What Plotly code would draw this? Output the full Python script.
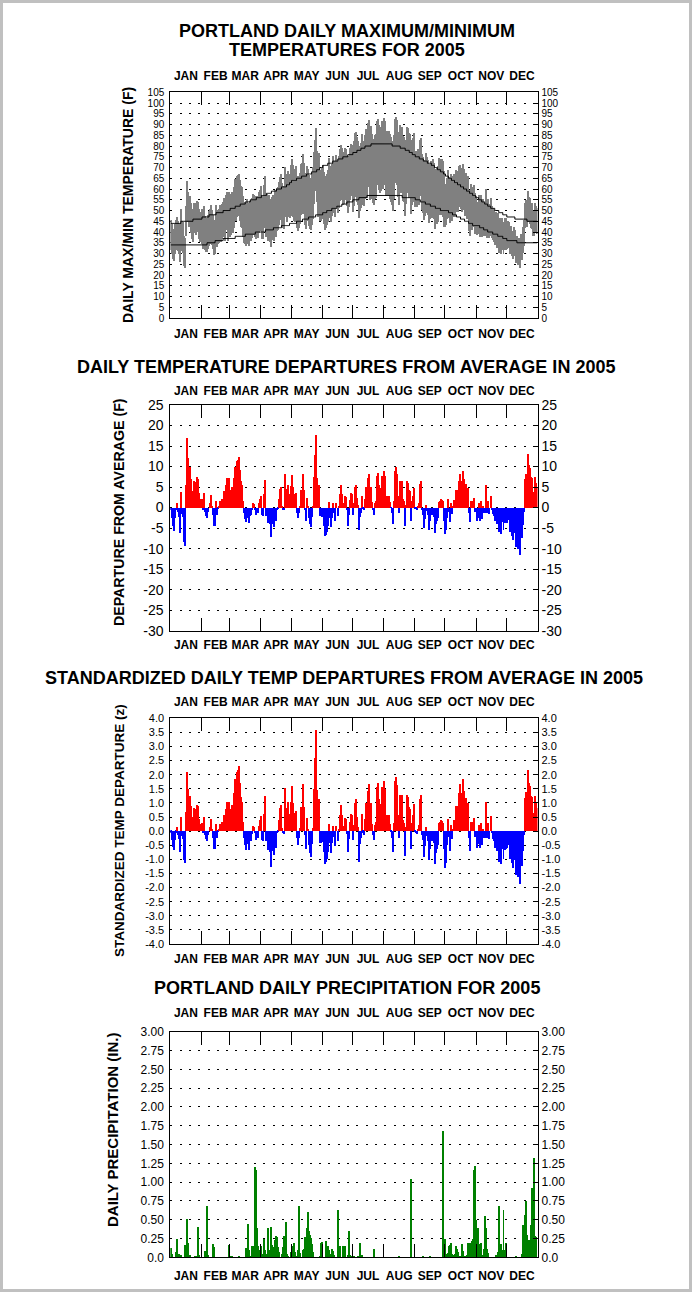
import numpy as np
import plotly.graph_objects as go

W, H = 692, 1292

MONTHS = ["JAN", "FEB", "MAR", "APR", "MAY", "JUN", "JUL", "AUG", "SEP", "OCT", "NOV", "DEC"]
MONTH_DAYS = [31, 28, 31, 30, 31, 30, 31, 31, 30, 31, 30, 31]

# daily departure of mean temperature from average (F), Jan 1 .. Dec 31
DEPARTURE = [
    -0.5, -2.5, -4.6, -5.6, -2.5, -0.5, 1, -1.1, -2.4, -6.2,
    3.9, -1.5, -2.2, -8.3, -9.3, 5.5, 17, 12, 9.5, 10,
    7, 4, 2, 6.5, 6.3, 5.5, 7.5, 7, 3.5, 2,
    2, 2, -0.5, 3.5, -1, -2, -2.5, -1, 0, 1,
    3, 0.5, -1.7, -4.5, -4.5, 1.7, -1.7, -0.3, 0.3, 1.7,
    0.7, 2.2, 2.2, 4, 0.3, 5.5, 7.2, 0.3, 7.2, 3,
    4.2, 5, 5, 7.2, 10, 9.6, 11.3, 11.7, 12.4, 9.2,
    6.4, 5.6, 1.7, -1.3, -2.7, -3.6, -0.9, -2.5, -3.7, -2,
    -1.9, -0.6, 1, 0.8, -0.5, -1.7, -1, -1.3, 1, 2,
    2.8, -1.7, -2, 3.2, 6.8, -2, -1.9, -3.7, -2.5, -4.1,
    -7.1, -3.9, -3.3, -4.8, -1.3, -3.3, -0.5, -0.2, 2.2, 4.5,
    5, 0.5, -0.5, -0.6, 8.3, 4.5, 2, 5.6, 3.2, 2.8,
    5.2, 8, 5, 3.2, 2.6, 3.6, -1.3, -2.5, -1.3, 0.5,
    4.2, 4.2, 8.3, 4.2, -0.7, -3.3, 2.3, 0.2, -2.5, -3.9,
    -4.7, -2.3, 0.5, 7.5, 12.9, 17.8, 7.2, 0.5, 5.6, -2.1,
    -2.1, -2.3, -0.9, -4.4, -7, -6.6, -6, -4.5, 1.4, -2.5,
    -4.8, -2.5, 1.1, -1.3, -3.3, 1, -2.1, 0.2, 3.4, 5.4,
    3.4, 0.3, 1.1, 2.8, 2.6, -0.7, -4.5, -1.7, 1.8, 3.6,
    3.4, -1.7, 1, 5, 5.6, 2.4, 0.7, -5.5, -2.3, -1.3,
    2.9, -0.3, -0.7, 2.1, 5, 2.1, 7.1, 8.3, 1.3, 5,
    1.3, -0.7, -1.7, 1.1, 1.5, 7.7, 8.4, 5.6, 4, 4.8,
    7.7, 6.1, 9, 7.6, 2.8, 2.8, 2.6, 2.8, 1.3, -0.1,
    -1.3, -3.9, 1.5, 9, 9.8, 8.3, 2.8, -1.3, 6.5, 4.8,
    6.4, 2, 1.5, -4.5, 0.7, 6.5, 6.1, 4.4, 4, -3.3,
    1.5, 2.8, 4.8, -0.3, -0.4, -0.5, 0.3, 1, 5.8, 6.6,
    -0.7, -1.7, -4.9, -2.8, 0.7, -0.9, -1.9, -5.4, -3.3, -1.7,
    -1.9, -0.5, -2.2, -6.2, -4.1, -3.3, -2.6, 1.4, 1.6, 2,
    1.8, 1.5, -3.3, -6.5, -5.5, -2.5, 2, -1, -3.5, 1,
    -1.5, 0.3, 1.9, 1, 4.4, 4.4, 4.4, 6.5, 8.1, 6.5,
    5, 9, 7, 4.5, 5.7, 3.5, 4.8, -1.2, -3.5, 1.5,
    0.5, 1.5, 2.3, -1, -0.5, -3.3, -2.5, 1.1, -3.3, 1.5,
    -2.8, 0.3, -1.3, -1.4, 5.6, -1.3, 1.5, -1.5, 0, 2.8,
    -0.5, -1.5, -2, -3.3, -2.6, -4, -2.3, -6, -4.5, -6.5,
    -3.5, -5.5, -3.7, -3.5, -3.7, -2.7, -3, -6, -5, -7,
    -8, -5.3, -6.3, -9.6, -8.6, -10, -9.5, -11.5, -7.5, -7.5,
    -4.3, -1, 7, 8.3, 8, 13.1, 10.3, 9.6, 7.5, 7.3,
    3.9, 3.9, 7.5, 6, 5,
]

# normal daily max / min (F) as runs of (value, number of days)
NORMAL_MAX_RUNS = [
    (44, 10), (45, 12), (46, 9),
    (47, 7), (48, 7), (49, 7), (50, 7),
    (51, 5), (52, 5), (53, 5), (54, 5), (55, 6), (56, 5),
    (57, 5), (58, 5), (59, 5), (60, 5), (61, 5), (62, 3), (63, 2),
    (64, 5), (65, 5), (66, 5), (67, 5), (68, 5), (69, 3), (70, 3),
    (71, 5), (72, 5), (73, 5), (74, 5), (75, 5), (76, 5),
    (77, 4), (78, 4), (79, 4), (80, 6), (81, 13),
    (81, 8), (80, 8), (79, 5), (78, 4), (77, 3), (76, 3),
    (75, 4), (74, 4), (73, 4), (72, 4), (71, 3), (70, 3), (69, 3), (68, 3), (67, 2),
    (66, 3), (65, 3), (64, 3), (63, 3), (62, 3), (61, 3), (60, 3), (59, 3), (58, 3), (57, 3), (56, 1),
    (56, 2), (55, 3), (54, 3), (53, 3), (52, 3), (51, 4), (50, 4), (49, 4), (48, 4),
    (47, 8), (46, 12), (45, 11),
]
NORMAL_MIN_RUNS = [
    (34, 31),
    (34, 5), (35, 8), (36, 8), (37, 7),
    (37, 5), (38, 10), (39, 10), (40, 6),
    (40, 4), (41, 8), (42, 8), (43, 8), (44, 2),
    (44, 5), (45, 6), (46, 6), (47, 7), (48, 7),
    (49, 4), (50, 5), (51, 5), (52, 5), (53, 5), (54, 6),
    (55, 6), (56, 8), (57, 17),
    (57, 18), (56, 13),
    (55, 5), (54, 5), (53, 5), (52, 5), (51, 5), (50, 5),
    (50, 3), (49, 4), (48, 4), (47, 4), (46, 4), (45, 4), (44, 4), (43, 4),
    (43, 3), (42, 4), (41, 4), (40, 5), (39, 5), (38, 5), (37, 4),
    (36, 10), (35, 21),
]
# typical daily max-min spread of the grey band per month (F)
DIURNAL_RANGE = [14, 16, 19, 20, 24, 24, 30, 30, 26, 19, 15, 12]
# spread used to standardise departures per month (F per z)
Z_SPREAD = [8.1, 7.0, 5.4, 5.5, 5.0, 6.0, 5.0, 5.1, 5.2, 4.9, 5.5, 6.1]

# daily precipitation (in.) on wet days
PRECIP_DAYS = [
    1, 2, 6, 7, 8, 9, 11, 15, 17, 18, 20, 25, 26, 28, 29, 35, 36, 37, 38, 43, 44, 59, 61, 62, 69,
    76, 78, 79, 81, 82, 84, 85, 86, 87, 88, 89, 91, 92, 94, 95, 97, 98, 99, 100, 101, 102, 103,
    104, 105, 106, 107, 108, 109, 112, 113, 114, 115, 116, 117, 118, 121, 122, 123, 124, 125,
    127, 128, 129, 130, 133, 134, 135, 136, 137, 138, 139, 140, 141, 142, 143, 150, 151, 152,
    156, 157, 158, 159, 160, 162, 163, 164, 167, 168, 169, 172, 174, 177, 178, 179, 181, 183,
    187, 189, 191, 203, 228, 240, 252, 259, 272, 273, 274, 275, 277, 278, 279, 280, 281, 282,
    284, 285, 286, 287, 289, 291, 292, 294, 296, 297, 298, 299, 300, 301, 302, 303, 304, 305,
    306, 307, 308, 309, 310, 312, 313, 314, 315, 316, 317, 325, 327, 328, 329, 330, 331, 332,
    333, 334, 344, 350, 351, 352, 353, 354, 355, 356, 357, 358, 359, 360, 361, 362, 363, 364,
]
PRECIP_IN = [
    0.13, 0.05, 0.08, 0.25, 0.03, 0.05, 0.04, 0.17, 0.52, 0.19, 0.03, 0.02, 0.02, 0.41, 0.03,
    0.09, 0.03, 0.69, 0.04, 0.18, 0.14, 0.17, 0.01, 0.01, 0.01,
    0.13, 0.45, 0.10, 0.02, 0.15, 0.16, 1.20, 1.17, 0.40, 0.15, 0.10, 0.16, 0.05, 0.25, 0.10,
    0.05, 0.40, 0.05, 0.10, 0.41, 0.17, 0.14,
    0.10, 0.23, 0.29, 0.28, 0.14, 0.07, 0.05, 0.14, 0.29, 0.07, 0.47, 0.05, 0.02, 0.08, 0.15,
    0.13, 0.20, 0.08,
    0.02, 0.10, 0.69, 0.06, 0.10, 0.12, 0.28, 0.26, 0.40, 0.60, 0.35, 0.30, 0.26, 0.18, 0.08,
    0.02, 0.20, 0.21,
    0.22, 0.10, 0.16, 0.10, 0.05, 0.11, 0.09, 0.03, 0.63, 0.03, 0.16, 0.16, 0.16, 0.04, 0.36,
    0.04, 0.02, 0.02,
    0.02, 0.20, 0.04, 0.11, 0.01, 1.05, 0.02, 0.02, 1.68, 0.03, 0.25, 0.05, 0.06, 0.15, 0.17,
    0.20, 0.05, 0.04,
    0.05, 0.16, 0.11, 0.07, 0.02, 0.18, 0.09, 0.02, 0.04, 0.20, 0.17, 0.20, 0.16, 0.22, 0.25,
    1.17, 1.22, 0.50,
    0.40, 0.40, 0.18, 0.10, 0.20, 0.03, 0.12, 0.55, 0.40, 0.12, 0.06, 0.03, 0.07, 0.69, 0.10,
    0.18, 0.10, 0.63,
    0.10, 0.20, 0.02, 0.05, 0.44, 0.27, 0.56, 0.75, 0.30, 0.06, 0.24, 0.21, 0.44, 0.93, 0.70,
    1.32, 0.29, 0.27,
]

# ---------------------------------------------------------------- derived series
def expand(runs):
    return np.concatenate([np.full(n, v, dtype=float) for v, n in runs])

n_days = sum(MONTH_DAYS)
day = np.arange(1, n_days + 1)
xc = day - 0.5
month_of_day = np.repeat(np.arange(12), MONTH_DAYS)
dep = np.array(DEPARTURE, dtype=float)
nmax = expand(NORMAL_MAX_RUNS)
nmin = expand(NORMAL_MIN_RUNS)
rng = np.array(DIURNAL_RANGE, dtype=float)[month_of_day]
tmean = (nmax + nmin) / 2 + dep
tmax = tmean + rng / 2
tmin = tmean - rng / 2
zdep = dep / np.array(Z_SPREAD)[month_of_day]
precip = np.zeros(n_days)
precip[np.array(PRECIP_DAYS) - 1] = PRECIP_IN

bounds = np.cumsum(MONTH_DAYS)[:-1]
centers = np.cumsum(MONTH_DAYS) - np.array(MONTH_DAYS) / 2

# ---------------------------------------------------------------- layout helpers
FONT = "Liberation Sans, Arial, sans-serif"
X0, X1 = 170.3, 537.5


def py(px):
    return 1 - px / H


def px_x(px):
    return px / W


panels = [
    dict(top=92.3, bot=318.0, rng=[0, 105], tv=list(range(0, 106, 5)),
         tt=[str(v) for v in range(0, 106, 5)], tfs=10, top_off=9, bot_off=7),
    dict(top=405.0, bot=630.7, rng=[-30, 25], tv=list(range(-30, 26, 5)),
         tt=[str(v) for v in range(-30, 26, 5)], tfs=14, top_off=7, bot_off=5),
    dict(top=718.3, bot=944.0, rng=[-4, 4], tv=[v / 2 for v in range(-8, 9)],
         tt=["%.1f" % (v / 2) for v in range(-8, 9)], tfs=11, top_off=9, bot_off=6),
    dict(top=1031.7, bot=1257.3, rng=[0, 3], tv=[v / 4 for v in range(0, 13)],
         tt=["0.0"] + ["%.2f" % (v / 4) for v in range(1, 13)], tfs=12, top_off=11, bot_off=10),
]

fig = go.Figure()
layout = dict(width=W, height=H, margin=dict(l=0, r=0, t=0, b=0, pad=0), autosize=False,
              paper_bgcolor="white", plot_bgcolor="white", showlegend=False,
              bargap=0, barmode="overlay", font=dict(family=FONT, color="black"))


def ax(name, n):
    return name if n == 1 else "%s%d" % (name, n)


for i, p in enumerate(panels):
    xi = 3 * i + 1
    yi = 2 * i + 1
    xn, xb, xt = ax("x", xi), ax("x", xi + 1), ax("x", xi + 2)
    yn, yr = ax("y", yi), ax("y", yi + 1)
    dom_y = [py(p["bot"]), py(p["top"])]
    dom_x = [px_x(X0), px_x(X1)]
    mfont = dict(family=FONT, size=12, color="black", weight=700)
    layout[ax("xaxis", xi)] = dict(
        domain=dom_x, range=[0, n_days], anchor=yn, tickmode="array", tickvals=list(bounds),
        ticks="inside", ticklen=13, tickwidth=1, tickcolor="black", showticklabels=False,
        showline=True, linecolor="black", linewidth=1, mirror="ticks", showgrid=False,
        zeroline=False, fixedrange=True, automargin=False)
    layout[ax("xaxis", xi + 1)] = dict(
        overlaying=xn, anchor=yn, side="bottom", range=[0, n_days], tickmode="array",
        tickvals=list(centers), ticktext=MONTHS, ticks="", showline=False, showgrid=False,
        zeroline=False, tickfont=mfont, ticklabelstandoff=p["bot_off"], automargin=False)
    layout[ax("xaxis", xi + 2)] = dict(
        overlaying=xn, anchor=yn, side="top", range=[0, n_days], tickmode="array",
        tickvals=list(centers), ticktext=MONTHS, ticks="", showline=False, showgrid=False,
        zeroline=False, tickfont=mfont, ticklabelstandoff=p["top_off"], automargin=False)
    yfont = dict(family=FONT, size=p["tfs"], color="black")
    layout[ax("yaxis", yi)] = dict(
        domain=dom_y, range=p["rng"], anchor=xn, tickmode="array", tickvals=p["tv"],
        ticktext=p["tt"], ticks="", showline=True, linecolor="black", linewidth=1,
        mirror=True, showgrid=True, gridcolor="black", gridwidth=1, griddash="2px,7.3px",
        zeroline=False, tickfont=yfont, ticklabelstandoff=3, fixedrange=True, automargin=False)
    layout[ax("yaxis", yi + 1)] = dict(
        overlaying=yn, anchor=xn, side="right", range=p["rng"], tickmode="array",
        tickvals=p["tv"], ticktext=p["tt"], ticks="inside", ticklen=5, tickcolor="black",
        showline=False, showgrid=False, zeroline=False, tickfont=yfont, ticklabelstandoff=3,
        automargin=False)
    # empty helper traces so the label axes are drawn
    for xa, ya in ((xb, yn), (xt, yn), (xn, yr)):
        fig.add_trace(go.Scatter(x=list(centers), y=[None] * len(centers), mode="markers",
                                 hoverinfo="skip", xaxis=xa, yaxis=ya, marker=dict(opacity=0)))

# panel 1: daily max/min band and normals
fig.add_trace(go.Bar(x=xc, y=tmax - tmin, base=tmin, width=1, marker_color="#808080",
                     marker_line_width=0, xaxis="x", yaxis="y"))
fig.add_trace(go.Scatter(x=xc, y=nmax, mode="lines", line=dict(color="black", width=1, shape="hv"),
                         xaxis="x", yaxis="y"))
fig.add_trace(go.Scatter(x=xc, y=nmin, mode="lines", line=dict(color="black", width=1, shape="hv"),
                         xaxis="x", yaxis="y"))
# panel 2: departures
fig.add_trace(go.Bar(x=xc, y=dep, width=1, marker_line_width=0,
                     marker_color=np.where(dep >= 0, "#ff0000", "#0000ff"), xaxis="x4", yaxis="y3"))
# panel 3: standardized departures
fig.add_trace(go.Bar(x=xc, y=zdep, width=1, marker_line_width=0,
                     marker_color=np.where(zdep >= 0, "#ff0000", "#0000ff"), xaxis="x7", yaxis="y5"))
# panel 4: precipitation
fig.add_trace(go.Bar(x=xc, y=precip, width=1, marker_line_width=0, marker_color="#008000",
                     xaxis="x10", yaxis="y7"))

TFONT = dict(family=FONT, size=18, color="black", weight=700)


def afont(size):
    return dict(family=FONT, size=size, color="black", weight=700)


annotations = [
    dict(text="PORTLAND DAILY MAXIMUM/MINIMUM", x=347 / W, y=py(31), font=TFONT),
    dict(text="TEMPERATURES FOR 2005", x=347 / W, y=py(50), font=TFONT),
    dict(text="DAILY TEMPERATURE DEPARTURES FROM AVERAGE IN 2005", x=346 / W, y=py(367), font=TFONT),
    dict(text="STANDARDIZED DAILY TEMP DEPARTURES FROM AVERAGE IN 2005", x=344 / W, y=py(678), font=TFONT),
    dict(text="PORTLAND DAILY PRECIPITATION FOR 2005", x=347 / W, y=py(988), font=TFONT),
    dict(text="DAILY MAX/MIN TEMPERATURE (F)", x=128 / W, y=py(205), textangle=-90, font=afont(14)),
    dict(text="DEPARTURE FROM AVERAGE (F)", x=119 / W, y=py(512), textangle=-90, font=afont(14.2)),
    dict(text="STANDARDIZED TEMP DEPARTURE (z)", x=119 / W, y=py(831), textangle=-90, font=afont(13.5)),
    dict(text="DAILY PRECIPITATION (IN.)", x=112 / W, y=py(1130), textangle=-90, font=afont(15)),
]
for a in annotations:
    a.update(xref="paper", yref="paper", showarrow=False, xanchor="center", yanchor="middle")
layout["annotations"] = annotations
layout["shapes"] = [dict(type="rect", xref="paper", yref="paper", x0=0, y0=0, x1=1, y1=1,
                         line=dict(color="#c0c0c0", width=6), fillcolor="rgba(0,0,0,0)", layer="above")]
fig.update_layout(**layout)
fig.write_html("out.html", config={"displayModeBar": False},
               post_script="document.body.style.margin='0';document.body.style.overflow='hidden';")
